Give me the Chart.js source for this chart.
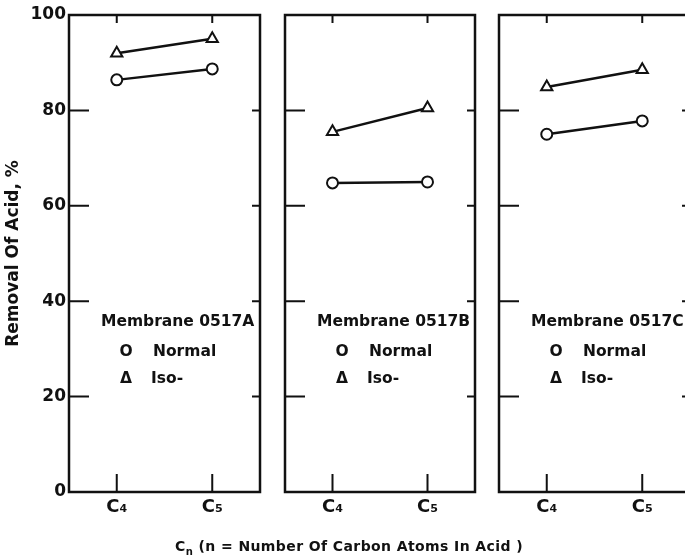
<!DOCTYPE html>
<html>
<head>
<meta charset="utf-8">
<script src="https://cdn.jsdelivr.net/npm/chart.js@4.4.0/dist/chart.umd.min.js"></script>
<style>
html, body { margin: 0; padding: 0; background: #fff; overflow: hidden; width: 685px; height: 558px; }
canvas { position: absolute; left: 0; top: 0; }
#xtitle { position: absolute; left: 0; width: 698px; top: 538px; text-align: center;
  font: bold 14px "DejaVu Sans"; letter-spacing: 0.4px; color: #111; }
#xtitle sub { font-size: 10px; }
</style>
</head>
<body>
<canvas id="panelA" width="700" height="558"></canvas>
<canvas id="panelB" width="700" height="558"></canvas>
<canvas id="panelC" width="700" height="558"></canvas>
<div id="xtitle">C<sub>n</sub> (n = Number Of Carbon Atoms In Acid )</div>
<script>
// values
const categories = ['C₄', 'C₅'];
const yTicks = [0, 20, 40, 60, 80, 100];
const membranes = ['Membrane 0517A', 'Membrane 0517B', 'Membrane 0517C'];
const normalA = [86.4, 88.7];
const isoA = [92.0, 95.0];
const normalB = [64.8, 65.0];
const isoB = [75.5, 80.5];
const normalC = [75.0, 77.8];
const isoC = [84.9, 88.5];

const ink = '#111';
const font = '"DejaVu Sans", sans-serif';

// box round the plot + inward tick marks + the little legend
const framePlugin = {
    id: 'frame',
    beforeDatasetsDraw(chart) {
        const ctx = chart.ctx;
        const a = chart.chartArea;
        const x = chart.scales.x;
        const y = chart.scales.y;
        ctx.save();
        ctx.strokeStyle = ink;
        ctx.lineWidth = 2.5;
        ctx.strokeRect(a.left, a.top, a.right - a.left, a.bottom - a.top);
        ctx.lineWidth = 2;
        ctx.beginPath();
        yTicks.slice(1, -1).forEach(v => {
            const py = y.getPixelForValue(v);
            ctx.moveTo(a.left, py); ctx.lineTo(a.left + 20, py);
            ctx.moveTo(a.right, py); ctx.lineTo(a.right - 8, py);
        });
        categories.forEach((c, i) => {
            const px = x.getPixelForValue(i);
            ctx.moveTo(px, a.bottom); ctx.lineTo(px, a.bottom - 18);
            ctx.moveTo(px, a.top); ctx.lineTo(px, a.top + 8);
        });
        ctx.stroke();
        ctx.restore();
    },
    afterDraw(chart, args, opts) {
        const ctx = chart.ctx;
        const a = chart.chartArea;
        ctx.save();
        ctx.fillStyle = ink;
        ctx.textBaseline = 'middle';
        ctx.font = 'bold 15.5px ' + font;
        ctx.fillText(opts.name, a.left + 32, a.top + 307);
        ctx.fillText('Normal', a.left + 84, a.top + 337);
        ctx.fillText('Iso-', a.left + 82, a.top + 364);
        ctx.textAlign = 'center';
        ctx.fillText('O', a.left + 57, a.top + 337);
        ctx.fillText('Δ', a.left + 57, a.top + 364);
        ctx.restore();
    }
};

function makePanel(id, name, normal, iso, showY, left, right) {
    new Chart(document.getElementById(id), {
        type: 'line',
        data: {
            labels: categories,
            datasets: [{
                label: 'Normal',
                data: normal,
                borderColor: ink,
                borderWidth: 2.5,
                pointStyle: 'circle',
                pointRadius: 5.5,
                pointBorderWidth: 2,
                pointBackgroundColor: '#fff',
                pointBorderColor: ink
            }, {
                label: 'Iso-',
                data: iso,
                borderColor: ink,
                borderWidth: 2.5,
                pointStyle: 'triangle',
                pointRadius: 6.5,
                pointBorderWidth: 2,
                pointBackgroundColor: '#fff',
                pointBorderColor: ink
            }]
        },
        options: {
            responsive: false,
            animation: false,
            layout: { padding: { left: showY ? 0 : left, right: 700 - right, top: 15, bottom: 0 } },
            plugins: {
                legend: { display: false },
                tooltip: { enabled: false },
                frame: { name: name }
            },
            scales: {
                x: {
                    type: 'category',
                    offset: true,
                    grid: { display: false, drawTicks: false },
                    border: { display: false },
                    ticks: { color: ink, padding: 5, font: { family: font, size: 18, weight: 'bold' } },
                    afterFit: s => { s.height = 66; }
                },
                y: {
                    display: showY,
                    min: 0,
                    max: 100,
                    afterBuildTicks: s => { s.ticks = yTicks.map(v => ({ value: v })); },
                    grid: { display: false, drawTicks: false },
                    border: { display: false },
                    ticks: { color: ink, padding: 3, font: { family: font, size: 17, weight: 'bold' } },
                    title: {
                        display: true,
                        text: 'Removal Of Acid, %',
                        color: ink,
                        padding: { top: 3, bottom: 0 },
                        font: { family: font, size: 17, weight: 'bold' }
                    },
                    afterFit: s => { s.width = showY ? left : 0; }
                }
            }
        },
        plugins: [framePlugin]
    });
}

makePanel('panelA', membranes[0], normalA, isoA, true, 69, 260);
makePanel('panelB', membranes[1], normalB, isoB, false, 285, 475);
makePanel('panelC', membranes[2], normalC, isoC, false, 499, 690);
</script>
</body>
</html>
